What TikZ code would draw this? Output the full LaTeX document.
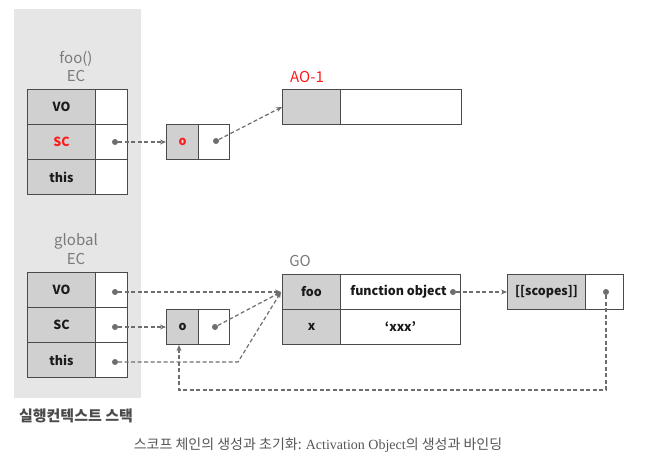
\documentclass[tikz,border=0pt]{standalone}
\usepackage{fontspec}
\setmainfont{Noto Sans CJK KR}
\newfontfamily\capfont{Liberation Serif}
\newfontfamily\krfont{Noto Sans CJK KR}
\usetikzlibrary{arrows.meta,positioning}
\definecolor{panelgray}{HTML}{E6E6E6}
\definecolor{cellgray}{HTML}{D1D0D1}
\definecolor{bordc}{HTML}{4A4A4A}
\definecolor{linec}{HTML}{6E6E6E}
\definecolor{labgray}{HTML}{7A7A7A}
\definecolor{txtc}{HTML}{1A1A1A}
\definecolor{redc}{HTML}{FF1A1A}
\definecolor{capc}{HTML}{555555}
\tikzset{
  cell/.style={draw=bordc, line width=1pt, minimum height=35pt, inner sep=0pt, anchor=north west, text=txtc, font=\fontsize{12.5}{14}\selectfont\bfseries},
  keycell/.style={cell, fill=cellgray},
  valcell/.style={cell, fill=white},
  dot/.style={circle, fill=linec, minimum size=6pt, inner sep=0pt},
  ptr/.style={draw=linec, line width=1.2pt, dash pattern=on 4pt off 2.5pt, -{Stealth[length=6pt,width=5pt]}},
  glabel/.style={text=labgray, font=\fontsize{15}{17}\selectfont, inner sep=0pt},
}
\begin{document}
\begin{tikzpicture}[x=1pt, y=-1pt]
\useasboundingbox (0,0) rectangle (656,466);
% panel
\fill[panelgray] (14,9) rectangle (141,398);
% foo EC
\node[glabel] (fooname) at (76,59) {foo()};
\node[glabel] (fooec) at (76,76) {EC};
\node[keycell, minimum width=68pt] (fvo) at (27,89) {VO};
\node[valcell, minimum width=32pt] (fvov) at (95,89) {};
\node[keycell, minimum width=68pt, text=redc] (fsc) at (27,124) {SC};
\node[valcell, minimum width=32pt] (fscv) at (95,124) {};
\node[keycell, minimum width=68pt] (fth) at (27,159) {this};
\node[valcell, minimum width=32pt] (fthv) at (95,159) {};
% foo scope chain list
\node[keycell, minimum width=32pt, text=redc] (fok) at (166,124) {o};
\node[valcell, minimum width=31pt] (fov) at (198,124) {};
% AO-1
\node[text=redc, font=\fontsize{15}{17}\selectfont, inner sep=0pt] (aoname) at (307,77) {AO-1};
\node[keycell, minimum width=58pt] (aok) at (282,89) {};
\node[valcell, minimum width=121pt] (aov) at (340,89) {};
% global EC
\node[glabel] (glname) at (76,241) {global};
\node[glabel] (glec) at (76,259) {EC};
\node[keycell, minimum width=68pt] (gvo) at (27,272) {VO};
\node[valcell, minimum width=32pt] (gvov) at (95,272) {};
\node[keycell, minimum width=68pt] (gsc) at (27,307) {SC};
\node[valcell, minimum width=32pt] (gscv) at (95,307) {};
\node[keycell, minimum width=68pt] (gth) at (27,342) {this};
\node[valcell, minimum width=32pt] (gthv) at (95,342) {};
% global scope chain list
\node[keycell, minimum width=32pt] (gok) at (166,309) {o};
\node[valcell, minimum width=31pt] (gov) at (198,309) {};
% GO
\node[glabel] (goname) at (300,261) {GO};
\node[keycell, minimum width=58pt] (gofoo) at (282,274) {foo};
\node[valcell, minimum width=120pt] (gofoov) at (340,274) {function object\hspace*{4pt}};
\node[keycell, minimum width=58pt] (gox) at (282,309) {x};
\node[valcell, minimum width=120pt] (goxv) at (340,309) {‘xxx’};
% scopes
\node[keycell, minimum width=78pt] (sck) at (507,274) {[[scopes]]};
\node[valcell, minimum width=38pt] (scv) at (585,274) {};
% dots
\node[dot] (dfsc) at (115,142) {};
\node[dot] (dfo) at (216,141) {};
\node[dot] (dgvo) at (115,292) {};
\node[dot] (dgsc) at (115,327) {};
\node[dot] (dgth) at (115,362) {};
\node[dot] (dgo) at (215,327) {};
\node[dot] (dfn) at (453,292) {};
\node[dot] (dsc) at (606,292) {};
\coordinate (thisbend) at (238,362);
\coordinate (loopc) at (179,390);
\coordinate (gotip) at (281,292);
% connectors
\draw[ptr] (dfsc) -- (fok.west);
\draw[ptr] (dfo) -- (aok.west);
\draw[ptr] (dgvo) -- (gotip);
\draw[ptr] (dgsc) -- (gok.west);
\draw[ptr] (dgo) -- (gotip);
\draw[ptr] (dgth) -- (thisbend) -- (gotip);
\draw[ptr] (dfn) -- (sck.west);
\draw[ptr] (dsc) |- (loopc) -- (loopc |- gok.south);
% texts
\node[text=bordc, font=\fontsize{15}{17}\selectfont\bfseries, inner sep=0pt] (stack) at (76,416) {실행컨텍스트 스택};
\node[text=capc, font=\fontsize{14}{16}\selectfont, inner sep=0pt] (caption) at (318,445) {스코프 체인의 생성과 초기화: {\capfont Activation Object}의 생성과 바인딩};
\end{tikzpicture}
\end{document}
